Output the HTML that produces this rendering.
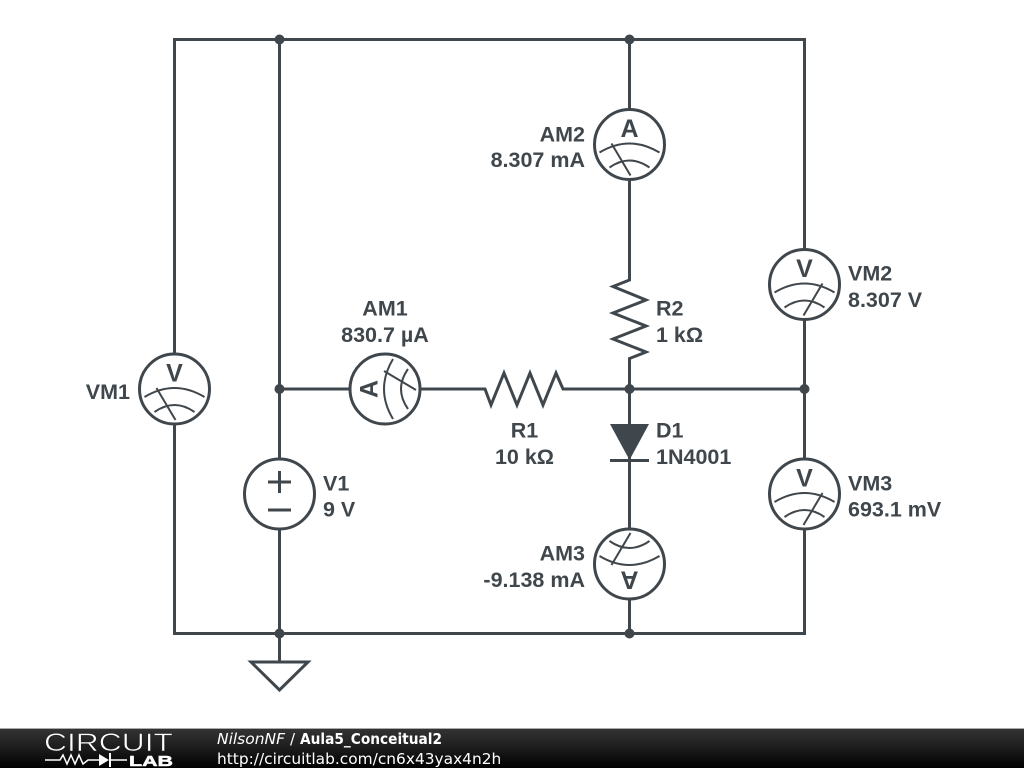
<!DOCTYPE html>
<html>
<head>
<meta charset="utf-8">
<style>
html,body{margin:0;padding:0;background:#fff;width:1024px;height:768px;overflow:hidden}
svg{display:block}
.l{font-family:"Liberation Sans",sans-serif;font-weight:bold;font-size:21.500px;fill:#40474c}
.m{font-family:"Liberation Sans",sans-serif;font-weight:bold;font-size:25px;fill:#40474c}
.w{fill:none;stroke:#40474c;stroke-width:3}
.t{fill:none;stroke:#40474c;stroke-width:2}
.d{fill:#40474c}
</style>
</head>
<body>
<svg width="1024" height="768" viewBox="0 0 1024 768" xmlns="http://www.w3.org/2000/svg">
<defs>
<linearGradient id="g" x1="0" y1="0" x2="0" y2="1"><stop offset="0" stop-color="#333"/><stop offset="0.5" stop-color="#1c1c1c"/><stop offset="1" stop-color="#000"/></linearGradient>
<g id="arcs">
<circle cx="0" cy="0" r="35" fill="#fff" stroke="#40474c" stroke-width="3"/>
<path class="t" d="M-30 8Q0 -10 30 8M-20 23Q0 9 20 23"/>
</g>
</defs>
<rect width="1024" height="768" fill="#fff"/>

<!-- wires -->
<path class="w" d="M174.500 39.500H804.500V633.500H174.500Z"/>
<path class="w" d="M279.500 39.500V633.500M629.500 39.500V633.500M804.500 389H279.500"/>
<path class="w" d="M279.500 633.500V662M251 662H308L279.500 690Z" stroke-linejoin="miter"/>
<rect x="350" y="386" width="220" height="6" fill="#fff"/>
<path class="w" d="M420 389H485L491 405 504 373 517 405 530 373 543 405 556 373 563 389H570"/>
<rect x="626" y="270" width="6" height="100" fill="#fff"/>
<path class="w" d="M629.500 260V280L613 286.500 646 300 613 313 646 326 613 339 646 352 629.500 358.500V375"/>
<path class="d" d="M610 424H649L629.500 460Z"/>
<path class="w" d="M610 460.500H649"/>
<circle class="d" cx="279.500" cy="39.500" r="5"/>
<circle class="d" cx="629.500" cy="39.500" r="5"/>
<circle class="d" cx="279.500" cy="389" r="5"/>
<circle class="d" cx="629.500" cy="389" r="5"/>
<circle class="d" cx="804.500" cy="389" r="5"/>
<circle class="d" cx="279.500" cy="633.500" r="5"/>
<circle class="d" cx="629.500" cy="633.500" r="5"/>

<!-- V1 -->
<circle cx="279.500" cy="494" r="35" fill="#fff" stroke="#40474c" stroke-width="3"/>
<path class="w" d="M268 482H291M279.500 471V493M268 510H291"/>

<!-- AM2 -->
<g transform="translate(629.500 144.500)"><use href="#arcs"/><path class="t" d="M-18 -1L1 31"/>
<text class="m" text-anchor="middle" x="0" y="-7.500">A</text></g>
<!-- AM1 -->
<g transform="translate(385 389) rotate(-90)"><use href="#arcs"/><path class="t" d="M18 -1L-1 31"/>
<text class="m" text-anchor="middle" x="0" y="-7.500">A</text></g>
<!-- AM3 -->
<g transform="translate(629.500 564) rotate(180)"><use href="#arcs"/><path class="t" d="M18 -1L-1 31"/>
<text class="m" text-anchor="middle" x="0" y="-7.500">A</text></g>
<!-- VM1 -->
<g transform="translate(174.500 389)"><use href="#arcs"/><path class="t" d="M-18 -1L1 31"/>
<text class="m" text-anchor="middle" x="0" y="-7.500">V</text></g>
<!-- VM2 -->
<g transform="translate(804.500 284.500)"><use href="#arcs"/><path class="t" d="M18 -1L-1 31"/>
<text class="m" text-anchor="middle" x="0" y="-7.500">V</text></g>
<!-- VM3 -->
<g transform="translate(804.500 494)"><use href="#arcs"/><path class="t" d="M18 -1L-1 31"/>
<text class="m" text-anchor="middle" x="0" y="-7.500">V</text></g>

<!-- labels -->
<text class="l" text-anchor="end" x="585" y="141.500">AM2</text>
<text class="l" text-anchor="end" x="585" y="167">8.307 mA</text>
<text class="l" text-anchor="middle" x="385" y="315.500">AM1</text>
<text class="l" text-anchor="middle" x="385" y="342">830.7 µA</text>
<text class="l" text-anchor="end" x="130" y="399">VM1</text>
<text class="l" x="656" y="315.500">R2</text>
<text class="l" x="656" y="342">1 kΩ</text>
<text class="l" x="848" y="280.500">VM2</text>
<text class="l" x="848" y="307">8.307 V</text>
<text class="l" text-anchor="middle" x="524.500" y="437.500">R1</text>
<text class="l" text-anchor="middle" x="524.500" y="464">10 kΩ</text>
<text class="l" x="656" y="437.500">D1</text>
<text class="l" x="656" y="464">1N4001</text>
<text class="l" x="323" y="490.500">V1</text>
<text class="l" x="323" y="516.500">9 V</text>
<text class="l" x="848" y="490.500">VM3</text>
<text class="l" x="848" y="516.500">693.1 mV</text>
<text class="l" text-anchor="end" x="585" y="560.500">AM3</text>
<text class="l" text-anchor="end" x="585" y="587">-9.138 mA</text>

<!-- footer -->
<rect x="0" y="729" width="1024" height="39" fill="url(#g)"/>
<rect x="0" y="728" width="1024" height="1" fill="#aaa"/>
<text x="44" y="751" font-family="Liberation Sans,sans-serif" font-size="25" fill="#fff" stroke="#222" stroke-width="0.6" textLength="129" lengthAdjust="spacingAndGlyphs">CIRCUIT</text>
<text x="129" y="766" font-family="Liberation Sans,sans-serif" font-weight="bold" font-size="15" fill="#fff" stroke="#fff" stroke-width="0.5" textLength="44" lengthAdjust="spacingAndGlyphs">LAB</text>
<path d="M45 760H60L63 755 67 764 71 755 75 764 79 755 83 764 88 760H99M111 760H127" fill="none" stroke="#fff" stroke-width="1.500"/>
<path d="M99 754V766L109 760Z" fill="#fff"/>
<path d="M110 753V767" stroke="#fff" stroke-width="2"/>
<text x="217" y="744" font-family="DejaVu Sans,sans-serif" font-size="15" font-style="italic" fill="#fff" textLength="68" lengthAdjust="spacingAndGlyphs">NilsonNF</text>
<text x="290" y="744" font-family="DejaVu Sans,sans-serif" font-size="15" fill="#fff">/</text>
<text x="300" y="744" font-family="DejaVu Sans,sans-serif" font-size="15" font-weight="bold" fill="#fff" textLength="142" lengthAdjust="spacingAndGlyphs">Aula5_Conceitual2</text>
<text x="217" y="764" font-family="DejaVu Sans,sans-serif" font-size="15.400" fill="#fff">http://circuitlab.com/cn6x43yax4n2h</text>
</svg>
</body>
</html>
